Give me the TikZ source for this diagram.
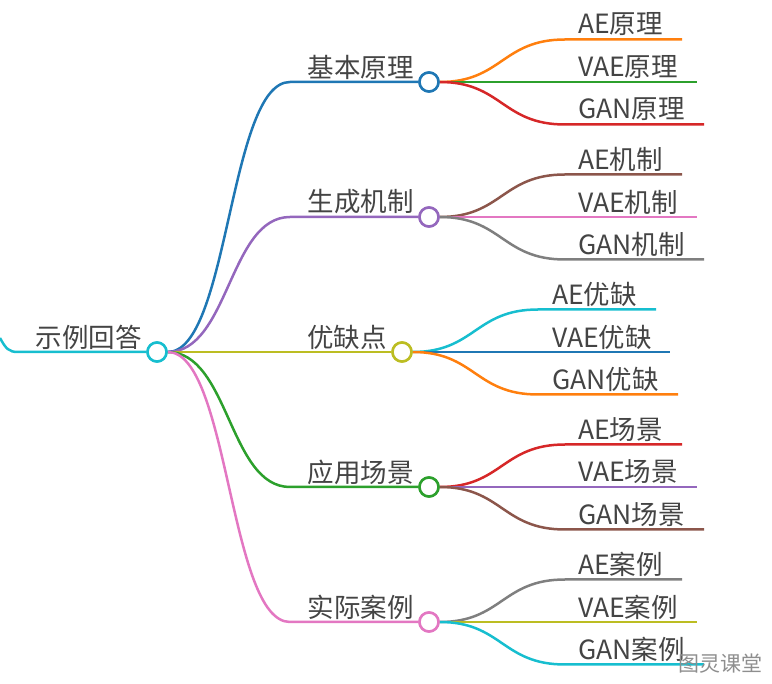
\documentclass[tikz,border=0pt]{standalone}
\usepackage{fontspec}
\setmainfont{Noto Sans CJK SC}
\definecolor{tblue}{HTML}{1F77B4}
\definecolor{torange}{HTML}{FF7F0E}
\definecolor{tgreen}{HTML}{2CA02C}
\definecolor{tred}{HTML}{D62728}
\definecolor{tpurple}{HTML}{9467BD}
\definecolor{tbrown}{HTML}{8C564B}
\definecolor{tpink}{HTML}{E377C2}
\definecolor{tgray}{HTML}{7F7F7F}
\definecolor{tolive}{HTML}{BCBD22}
\definecolor{tcyan}{HTML}{17BECF}
\definecolor{txt}{HTML}{444444}
\definecolor{wmark}{HTML}{8E8E8E}
\begin{document}
\begin{tikzpicture}[x=1pt,y=-1pt,
  edge/.style={line width=2.5pt},
  dot/.style={circle, draw, fill=white, line width=2.5pt, minimum size=19pt, inner sep=0pt},
  lbl/.style={inner sep=0pt, text=txt, font=\fontsize{26.5}{30}\selectfont}]
\useasboundingbox (0,0) rectangle (772,684);

% circles (positions)
\node[dot, draw=tcyan] (R) at (157,352) {};
\node[dot, draw=tblue] (C1) at (429,82) {};
\node[dot, draw=tpurple] (C2) at (429,217) {};
\node[dot, draw=tolive] (C3) at (402,352) {};
\node[dot, draw=tgreen] (C4) at (429,487) {};
\node[dot, draw=tpink] (C5) at (429,622) {};

% coordinates
\coordinate (L0) at (0,338);
\coordinate (L1) at (18,352);
\coordinate (k1) at (290,82);
\coordinate (k2) at (290,217);
\coordinate (k4) at (290,487);
\coordinate (k5) at (290,622);

% root incoming
\draw[edge,tcyan] (L0) .. controls (6,349) and (9,352) .. (L1) -- (R.west);
% root to children
\draw[edge,tblue] (R.east) .. controls (229,352) and (229,82) .. (k1) -- (C1.west);
\draw[edge,tpurple] (R.east) .. controls (229,352) and (229,217) .. (k2) -- (C2.west);
\draw[edge,tolive] (R.east) -- (C3.west);
\draw[edge,tgreen] (R.east) .. controls (229,352) and (229,487) .. (k4) -- (C4.west);
\draw[edge,tpink] (R.east) .. controls (229,352) and (229,622) .. (k5) -- (C5.west);

% group 1
\coordinate (a1) at (565,39.5); \coordinate (a1e) at (682,39.5);
\coordinate (b1e) at (697,82);
\coordinate (c1) at (565,124.5); \coordinate (c1e) at (704,124.5);
\draw[edge,torange] (C1.east) .. controls (502,82) and (502,39.5) .. (a1) -- (a1e);
\draw[edge,tgreen] (C1.east) -- (b1e);
\draw[edge,tred] (C1.east) .. controls (502,82) and (502,124.5) .. (c1) -- (c1e);
% group 2
\coordinate (a2) at (565,174.5); \coordinate (a2e) at (682,174.5);
\coordinate (b2e) at (697,217);
\coordinate (c2) at (565,259.5); \coordinate (c2e) at (704,259.5);
\draw[edge,tbrown] (C2.east) .. controls (502,217) and (502,174.5) .. (a2) -- (a2e);
\draw[edge,tpink] (C2.east) -- (b2e);
\draw[edge,tgray] (C2.east) .. controls (502,217) and (502,259.5) .. (c2) -- (c2e);
% group 3
\coordinate (a3) at (538,309.5); \coordinate (a3e) at (656,309.5);
\coordinate (b3e) at (670,352);
\coordinate (c3) at (538,394.5); \coordinate (c3e) at (678,394.5);
\draw[edge,tcyan] (C3.east) .. controls (475,352) and (475,309.5) .. (a3) -- (a3e);
\draw[edge,tblue] (C3.east) -- (b3e);
\draw[edge,torange] (C3.east) .. controls (475,352) and (475,394.5) .. (c3) -- (c3e);
% group 4
\coordinate (a4) at (565,444.5); \coordinate (a4e) at (682,444.5);
\coordinate (b4e) at (697,487);
\coordinate (c4) at (565,529.5); \coordinate (c4e) at (704,529.5);
\draw[edge,tred] (C4.east) .. controls (502,487) and (502,444.5) .. (a4) -- (a4e);
\draw[edge,tpurple] (C4.east) -- (b4e);
\draw[edge,tbrown] (C4.east) .. controls (502,487) and (502,529.5) .. (c4) -- (c4e);
% group 5
\coordinate (a5) at (565,579.5); \coordinate (a5e) at (682,579.5);
\coordinate (b5e) at (697,622);
\coordinate (c5) at (565,664.5); \coordinate (c5e) at (704,664.5);
\draw[edge,tgray] (C5.east) .. controls (502,622) and (502,579.5) .. (a5) -- (a5e);
\draw[edge,tolive] (C5.east) -- (b5e);
\draw[edge,tcyan] (C5.east) .. controls (502,622) and (502,664.5) .. (c5) -- (c5e);

% redraw circles on top of connectors
\node[dot, draw=tcyan] at (R) {};
\node[dot, draw=tblue] at (C1) {};
\node[dot, draw=tpurple] at (C2) {};
\node[dot, draw=tolive] at (C3) {};
\node[dot, draw=tgreen] at (C4) {};
\node[dot, draw=tpink] at (C5) {};

% labels
\node[lbl, anchor=east] (tR) at (142,337) {示例回答};
\node[lbl, anchor=east] (t1) at (414,67) {基本原理};
\node[lbl, anchor=east] (t2) at (414,202) {生成机制};
\node[lbl, anchor=east] (t3) at (387,337) {优缺点};
\node[lbl, anchor=east] (t4) at (414,472) {应用场景};
\node[lbl, anchor=east] (t5) at (414,607) {实际案例};

\node[lbl, anchor=west] (la1) at (578,24.5) {AE原理};
\node[lbl, anchor=west] (lb1) at (578,67) {VAE原理};
\node[lbl, anchor=west] (lc1) at (578,109.5) {GAN原理};
\node[lbl, anchor=west] (la2) at (578,159.5) {AE机制};
\node[lbl, anchor=west] (lb2) at (578,202) {VAE机制};
\node[lbl, anchor=west] (lc2) at (578,244.5) {GAN机制};
\node[lbl, anchor=west] (la3) at (552,294.5) {AE优缺};
\node[lbl, anchor=west] (lb3) at (552,337) {VAE优缺};
\node[lbl, anchor=west] (lc3) at (552,379.5) {GAN优缺};
\node[lbl, anchor=west] (la4) at (578,429.5) {AE场景};
\node[lbl, anchor=west] (lb4) at (578,472) {VAE场景};
\node[lbl, anchor=west] (lc4) at (578,514.5) {GAN场景};
\node[lbl, anchor=west] (la5) at (578,564.5) {AE案例};
\node[lbl, anchor=west] (lb5) at (578,607) {VAE案例};
\node[lbl, anchor=west] (lc5) at (578,649.5) {GAN案例};

% watermark
\node[inner sep=0pt, text=wmark, font=\fontsize{21}{24}\selectfont] (wm) at (720,664) {图灵课堂};
\end{tikzpicture}
\end{document}
